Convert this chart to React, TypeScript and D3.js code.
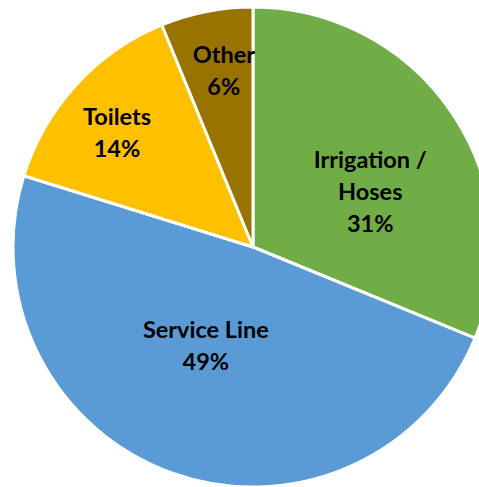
import { useMemo } from 'react';
import { pie, arc } from 'd3';

// Slice data, clockwise from 12 o'clock
const CATEGORIES = ['Irrigation / Hoses', 'Service Line', 'Toilets', 'Other'];
const LABEL_LINES = [['Irrigation /', 'Hoses'], ['Service Line'], ['Toilets'], ['Other']];
const VALUES = [31.2, 48.6, 14.0, 6.2];
const COLORS = ['#70AD47', '#5B9BD5', '#FFC000', '#997300'];

// label placement: [radius fraction, angle in degrees from 12 o'clock]
const LABEL_POLAR: [number, number][] = [
  [0.54, 64.8],
  [0.455, 205.6],
  [0.74, 310],
  [0.745, 350.6],
];

const W = 479;
const H = 487;
const CX = 253;
const CY = 247;
const R = 240;
const FONT = 23.5;
const LINE = 32;

export default function App() {
  const slices = useMemo(
    () => pie<number>().sort(null).value((d) => d)(VALUES),
    [],
  );
  const arcGen = arc<any>().innerRadius(0).outerRadius(R);
  const total = VALUES.reduce((a, b) => a + b, 0);

  return (
    <svg
      width={W}
      height={H}
      style={{ position: 'absolute', left: 0, top: 0, display: 'block', background: '#fff' }}
    >
      <g transform={`translate(${CX},${CY})`}>
        {slices.map((s, i) => (
          <path key={CATEGORIES[i]} d={arcGen(s) ?? ''} fill={COLORS[i]} stroke="#fff" strokeWidth={3} strokeLinejoin="round" />
        ))}
        {slices.map((s, i) => {
          const [rf, deg] = LABEL_POLAR[i];
          const a = (deg * Math.PI) / 180;
          const x = Math.sin(a) * R * rf;
          const y = -Math.cos(a) * R * rf;
          const lines = [...LABEL_LINES[i], `${Math.round((VALUES[i] / total) * 100)}%`];
          const y0 = y - ((lines.length - 1) * LINE) / 2;
          return (
            <text
              key={`lbl-${i}`}
              x={x}
              textAnchor="middle"
              fontFamily="Lato, 'Open Sans', sans-serif"
              fontWeight={700}
              fontSize={FONT}
              fill="#000"
            >
              {lines.map((l, j) => (
                <tspan key={j} x={x} y={y0 + j * LINE} dy="0.35em">{l}</tspan>
              ))}
            </text>
          );
        })}
      </g>
    </svg>
  );
}
